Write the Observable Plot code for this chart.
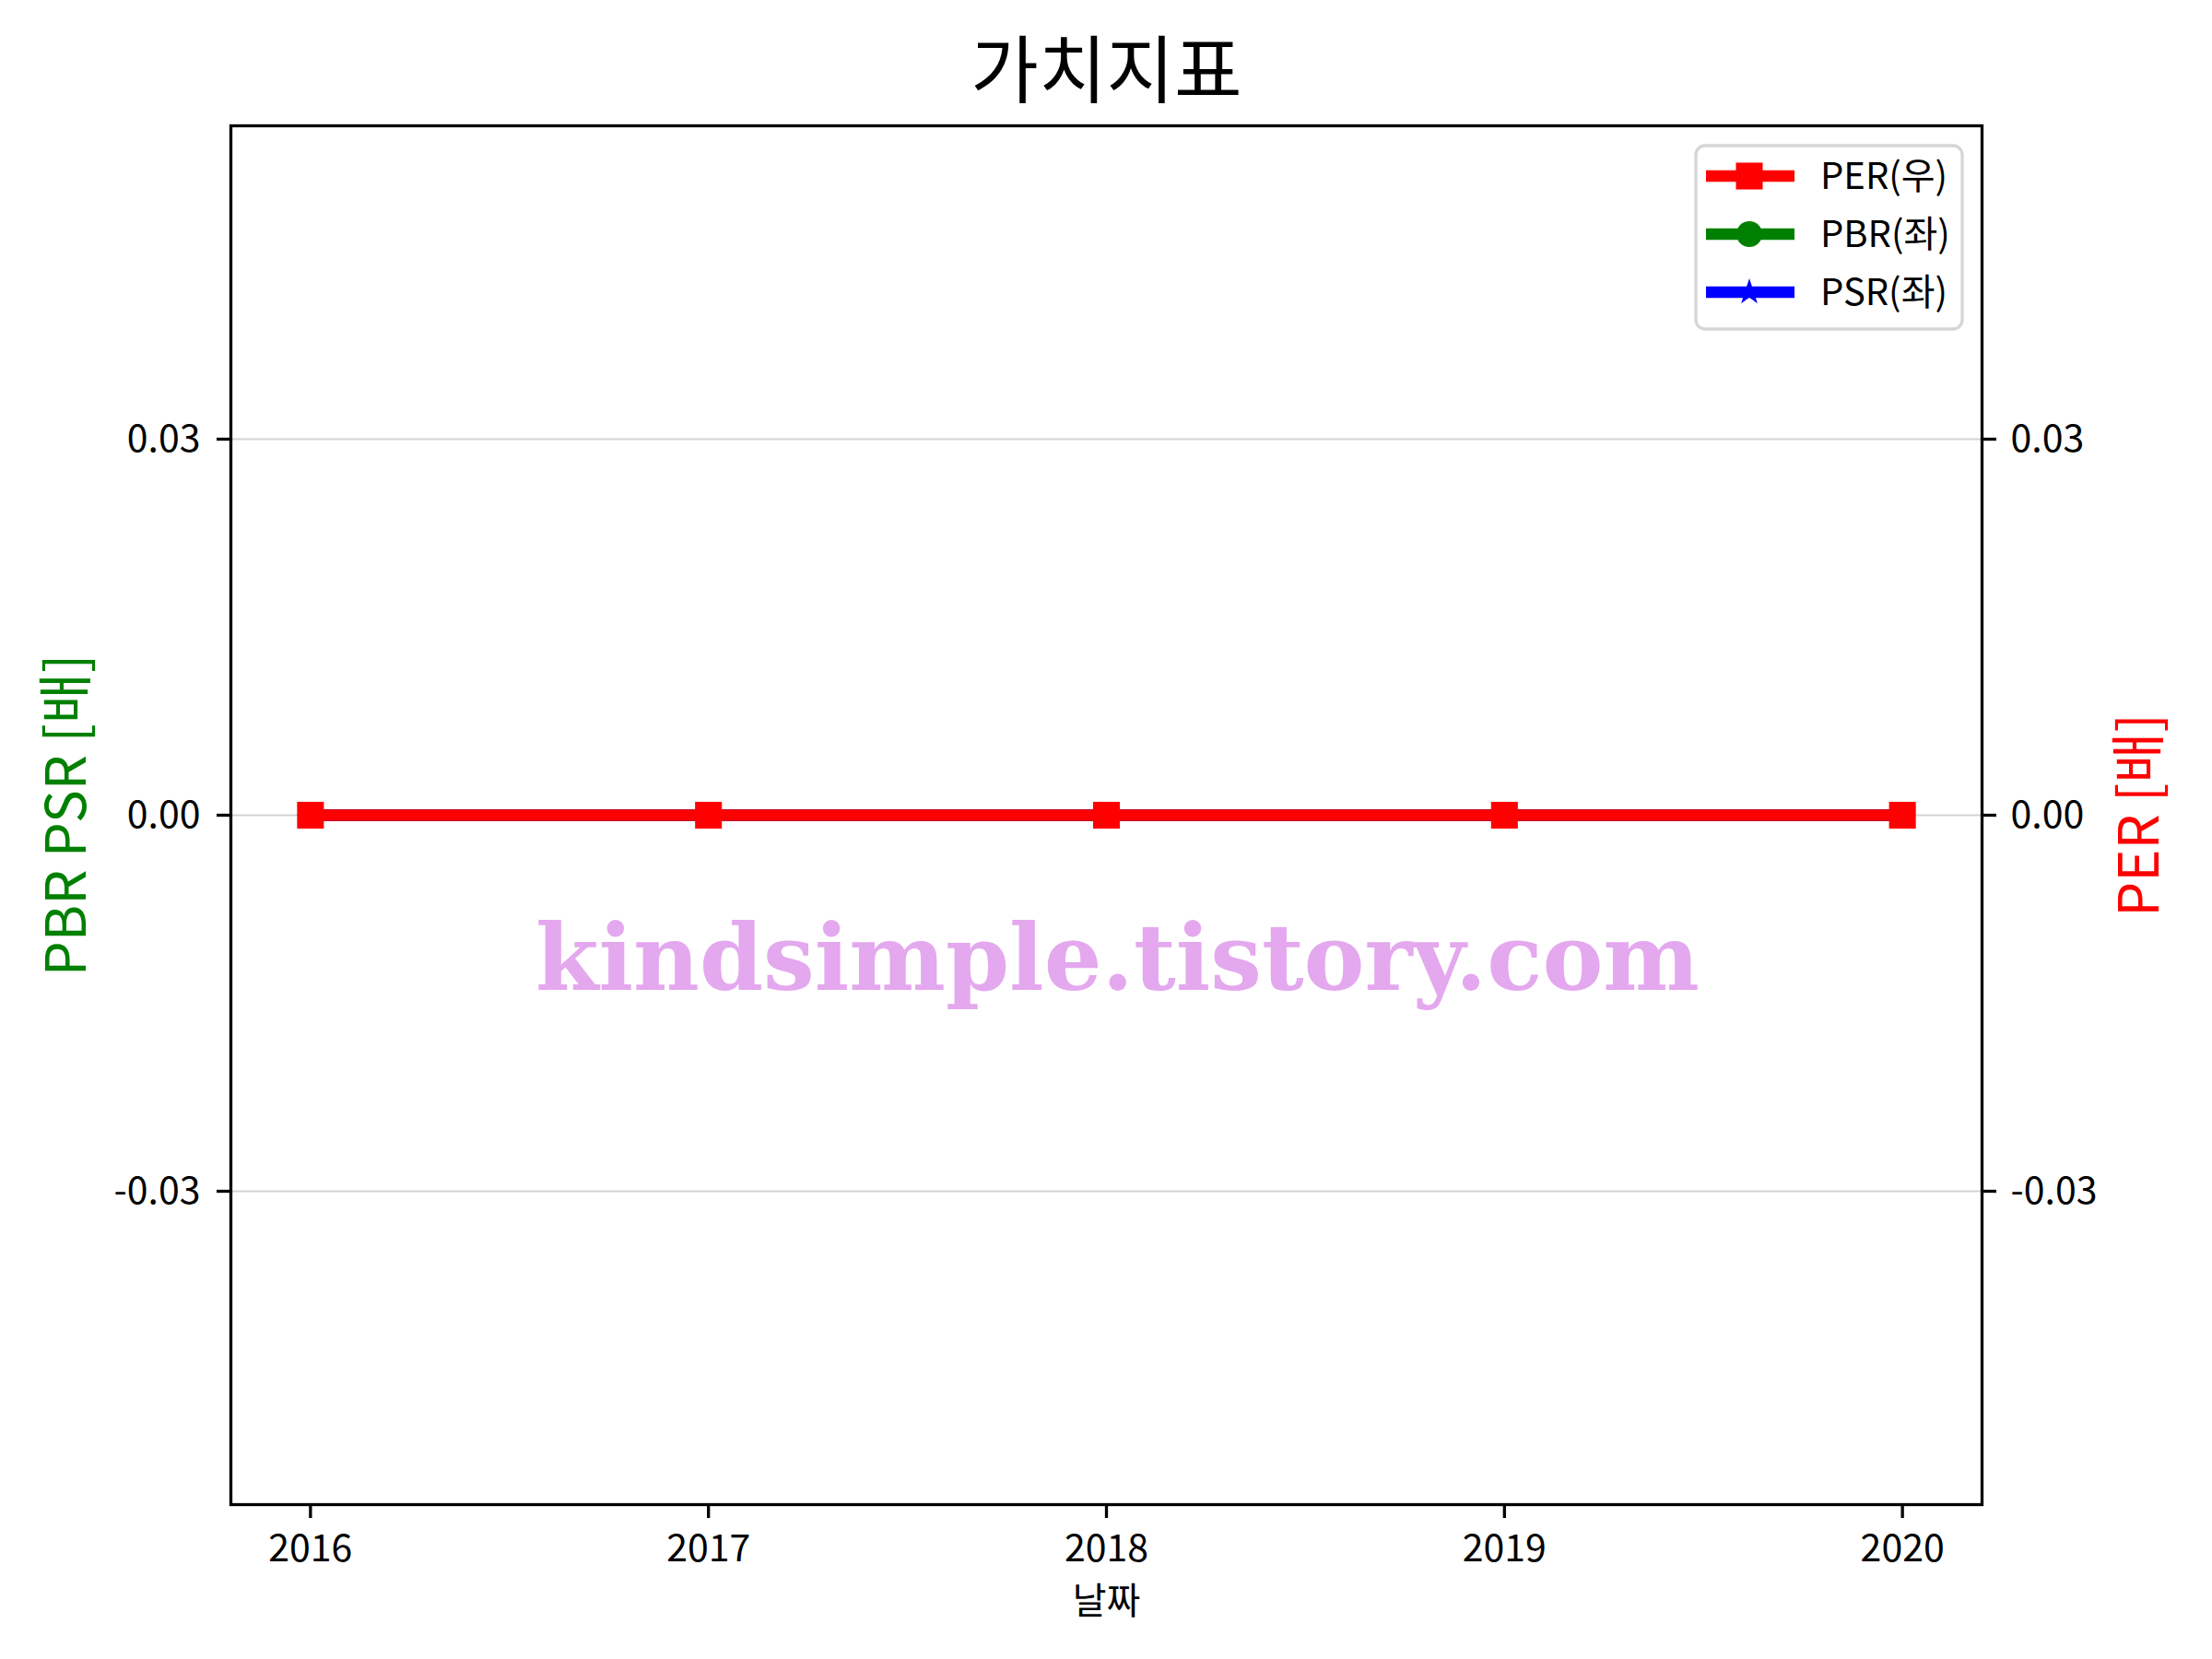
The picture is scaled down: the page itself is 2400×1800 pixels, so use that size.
<!DOCTYPE html>
<html>
<head>
<meta charset="utf-8">
<script src="https://cdn.jsdelivr.net/npm/d3@7"></script>
<script src="https://cdn.jsdelivr.net/npm/@observablehq/plot@0.6"></script>
<style>
  body { margin: 0; background: #fff; }
  #wrap { position: relative; width: 2400px; height: 1800px; background: #fff; }
  #wrap svg { display: block; }
</style>
</head>
<body>
<div id="wrap"></div>
<script>
// ---- data ----
const years = [2016, 2017, 2018, 2019, 2020];
const perValues = [0, 0, 0, 0, 0];
const pbrValues = [0, 0, 0, 0, 0];
const psrValues = [0, 0, 0, 0, 0];
const seriesNames = ["PER(우)", "PBR(좌)", "PSR(좌)"];
const seriesColors = ["#ff0000", "#008000", "#0000ff"];
const seriesSymbols = ["square", "circle", "star"];
const yTicks = [-0.03, 0, 0.03];
const xTickLabels = ["2016", "2017", "2018", "2019", "2020"];
const titleText = "가치지표";
const xLabel = "날짜";
const yLabelLeft = "PBR PSR [배]";
const yLabelRight = "PER [배]";
const watermark = "kindsimple.tistory.com";

// ---- build ----
const FONT = '"Noto Sans CJK KR", "Noto Sans", sans-serif';
const rows = v => years.map((yr, i) => ({ year: yr, value: v[i] }));
const perRows = rows(perValues), pbrRows = rows(pbrValues), psrRows = rows(psrValues);
const xPad = (d3.max(years) - d3.min(years)) * 0.05;
const xDomain = [d3.min(years) - xPad, d3.max(years) + xPad];
const yHalf = 0.05 * 1.1;
const yDomain = [-yHalf, yHalf];
const fmtY = d => d.toFixed(2);
const LW = 12.5;
const centered = { textAnchor: "middle", lineAnchor: "middle" };

const chart = Plot.plot({
  width: 2400,
  height: 1800,
  marginTop: 136,
  marginBottom: 168,
  marginLeft: 250,
  marginRight: 250,
  style: { fontFamily: FONT, background: "#fff", color: "#000", overflow: "visible" },
  x: { domain: xDomain },
  y: { domain: yDomain },
  marks: [
    Plot.gridY(yTicks, { stroke: "#d3d3d3", strokeOpacity: 1, strokeWidth: 2 }),
    Plot.line(pbrRows, { x: "year", y: "value", stroke: seriesColors[1], strokeWidth: LW }),
    Plot.dot(pbrRows, { x: "year", y: "value", symbol: seriesSymbols[1], r: 14, fill: seriesColors[1] }),
    Plot.line(psrRows, { x: "year", y: "value", stroke: seriesColors[2], strokeWidth: LW }),
    Plot.dot(psrRows, { x: "year", y: "value", symbol: seriesSymbols[2], r: 9, fill: seriesColors[2] }),
    Plot.line(perRows, { x: "year", y: "value", stroke: seriesColors[0], strokeWidth: LW }),
    Plot.dot(perRows, { x: "year", y: "value", symbol: seriesSymbols[0], r: 16.4, fill: seriesColors[0] }),
    Plot.text([watermark], { text: d => d, frameAnchor: "middle", dx: 12, dy: 157, fontSize: 100,
      fontWeight: "bold", fontFamily: '"DejaVu Serif", serif', fill: "#e4a8ee" }),
    Plot.frame({ stroke: "#000", strokeWidth: 3.3 }),
    Plot.axisX(years, { anchor: "bottom", tickSize: 15, tickPadding: 17, fontSize: 41,
      tickFormat: d => xTickLabels[years.indexOf(d)], label: null, strokeWidth: 3.3 }),
    Plot.axisY(yTicks, { anchor: "left", tickSize: 15, tickPadding: 18, fontSize: 41,
      tickFormat: fmtY, label: null, strokeWidth: 3.3 }),
    Plot.axisY(yTicks, { anchor: "right", tickSize: 15, tickPadding: 16, fontSize: 41,
      tickFormat: fmtY, label: null, strokeWidth: 3.3 }),
    Plot.text([titleText], { text: d => d, frameAnchor: "top", dy: -57, fontSize: 80, ...centered }),
    Plot.text([xLabel], { text: d => d, frameAnchor: "bottom", dy: 106, fontSize: 40, ...centered }),
    Plot.text([yLabelLeft], { text: d => d, frameAnchor: "left", dx: -177, rotate: -90, fontSize: 60,
      fill: seriesColors[1], ...centered }),
    Plot.text([yLabelRight], { text: d => d, frameAnchor: "right", dx: 172, rotate: -90, fontSize: 60,
      fill: seriesColors[0], ...centered })
  ]
});

const wrap = document.getElementById("wrap");
wrap.appendChild(chart);

d3.select(chart).selectAll("text")
  .filter(function () { return this.textContent === watermark; })
  .attr("textLength", 1263)
  .attr("lengthAdjust", "spacingAndGlyphs");

// ---- legend overlay ----
const leg = d3.select(wrap).append("svg")
  .attr("width", 2400).attr("height", 1800)
  .style("position", "absolute").style("left", 0).style("top", 0)
  .style("pointer-events", "none")
  .style("font-family", FONT);
leg.append("rect")
  .attr("x", 1840).attr("y", 158).attr("width", 289).attr("height", 199)
  .attr("rx", 10).attr("fill", "#fff").attr("fill-opacity", 0.8)
  .attr("stroke", "#d6d6d6").attr("stroke-width", 3.3);
const rowY = [191, 254, 317];
const symMap = { square: d3.symbolSquare, circle: d3.symbolCircle, star: d3.symbolStar };
const symR = { square: 16.4, circle: 14, star: 9 };
seriesNames.forEach((name, i) => {
  const y = rowY[i];
  leg.append("line").attr("x1", 1851).attr("x2", 1947).attr("y1", y).attr("y2", y)
    .attr("stroke", seriesColors[i]).attr("stroke-width", LW);
  const s = seriesSymbols[i];
  leg.append("path")
    .attr("d", d3.symbol(symMap[s], Math.PI * symR[s] * symR[s])())
    .attr("transform", `translate(1898,${y})`)
    .attr("fill", seriesColors[i]);
  leg.append("text").attr("x", 1975).attr("y", y).attr("dy", "0.35em")
    .attr("font-size", 40).attr("fill", "#000").text(name);
});
</script>
</body>
</html>
